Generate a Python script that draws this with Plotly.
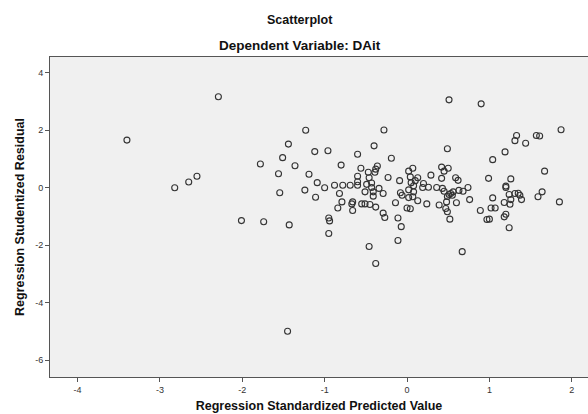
import plotly.graph_objects as go

# Regression standardized predicted value (x) and studentized residual (y)
pred = [
    -2.29, -3.40, -2.82, -2.65, -2.55, -1.78, -1.56, -1.545, -1.44, -1.51, -1.36, -1.23, -1.12, -1.19, -1.09,
    -1.24, -1.11, -2.01, -1.74, -1.43, -1.45,
    0.51, 0.90, -0.28, 1.87, 1.33, 1.31, 1.57, 1.61, 1.44, -0.96, -0.60, -0.40, 0.49, 1.19, 1.04, -0.19,
    -0.80, -0.56, -0.36, -0.38, -0.39, -0.47, 0.07, 0.02, 0.42, 0.50, 0.45, -1.00, -0.88, -0.78, -0.69,
    -0.60, -0.60, -0.60, -0.46, -0.43, -0.49, -0.43, -0.41, -0.34, -0.51, -0.29, -0.82, -0.23, -0.09,
    0.04, 0.10, 0.05, 0.13, 0.20, 0.26, 0.19, 0.08, 0.02, 0.08, 0.29, 0.42, 0.59, 0.62, 0.36, 0.43, 0.45,
    0.53, 0.55, 0.51, 0.56, 0.63, 0.68, 0.74, 0.99, 1.26, 1.20, 1.20, 1.67, 1.64, 1.59, 1.24, 1.31, 1.35,
    1.37, 1.39, 1.26, 1.85, 0.49, 0.48, 0.60, 0.76, 0.39, 0.89, 1.04, 1.02, 1.07, 1.18, 1.20, 0.24,
    0.13, 0.07, -0.08, -0.06, -0.14, 0.02, 0.00, 0.04, -0.29, -0.79, -0.84, -0.66, -0.67, -0.55, -0.51,
    -0.45, -0.38, -0.66,
    -0.27, -0.95, -0.94, -0.95, -0.11, -0.07, -0.11, -0.46, -0.38, 0.67, 0.52, 0.47, 0.49, 0.97, 1.00,
    1.18, 1.24, 1.25, -0.41,
]
resid = [
    3.17, 1.66, 0.00, 0.20, 0.40, 0.83, 0.49, -0.17, 1.52, 1.05, 0.77, 2.00, 1.26, 0.47, 0.18,
    -0.08, -0.33, -1.14, -1.18, -1.29, -4.99,
    3.06, 2.92, 2.01, 2.02, 1.82, 1.64, 1.82, 1.80, 1.55, 1.29, 1.17, 1.46, 1.36, 1.25, 0.98, 1.03,
    0.79, 0.68, 0.76, 0.65, 0.54, 0.54, 0.68, 0.58, 0.72, 0.68, 0.58, 0.00, 0.09, 0.09, 0.09,
    0.40, 0.21, 0.09, 0.35, 0.17, 0.12, 0.01, -0.14, -0.02, -0.14, -0.20, -0.20, 0.36, 0.25,
    0.38, 0.25, 0.18, 0.35, 0.15, 0.02, 0.01, 0.07, -0.07, -0.14, 0.44, 0.33, 0.35, 0.26, 0.01, -0.02, -0.12,
    -0.20, -0.26, -0.23, -0.14, -0.09, -0.12, 0.01, 0.33, 0.31, 0.06, 0.01, 0.58, -0.14, -0.31, -0.23, -0.20, -0.19,
    -0.26, -0.41, -0.41, -0.49, -0.30, -0.49, -0.52, -0.41, -0.60, -0.79, -0.35, -0.70, -0.70, -0.51, -0.92, -0.56,
    -0.45, -0.31, -0.17, -0.26, -0.52, -0.34, -0.70, -0.73, -0.88, -0.49, -0.70, -0.49, -0.56, -0.56, -0.56,
    -0.58, -0.67, -0.79,
    -1.03, -1.05, -1.15, -1.59, -1.05, -1.35, -1.83, -2.04, -2.63, -2.22, -1.09, -0.72, -0.83, -1.10, -1.09,
    -1.01, -1.39, -0.57, -0.29,
]

x_ticks = [-4, -3, -2, -1, 0, 1, 2]
y_ticks = [4, 2, 0, -2, -4, -6]

title_main = "Scatterplot"
title_sub = "Dependent Variable: DAit"
x_title = "Regression Standardized Predicted Value"
y_title = "Regression Studentized Residual"

FONT = "Liberation Sans, Arial, sans-serif"
W, H = 588, 414
ML, MR, MT, MB = 50, 0, 57, 37
plot_w = W - ML - MR
plot_h = H - MT - MB


def px_to_paper(px, py):
    return (px - ML) / plot_w, 1 + (MT - py) / plot_h


fig = go.Figure()
fig.add_trace(go.Scatter(
    x=pred, y=resid, mode="markers",
    marker=dict(symbol="circle-open", size=6, color="#333333", line=dict(width=1.1, color="#333333")),
    showlegend=False, hoverinfo="x+y",
))

ax1, ay1 = px_to_paper(300, 20)
ax2, ay2 = px_to_paper(300, 46)

fig.update_layout(
    width=W, height=H,
    margin=dict(l=ML, r=MR, t=MT, b=MB),
    paper_bgcolor="white",
    plot_bgcolor="#F0F0F0",
    font=dict(family=FONT, color="#222222"),
    annotations=[
        dict(text="<b>" + title_main + "</b>", x=ax1, y=ay1, xref="paper", yref="paper",
             xanchor="center", yanchor="middle",
             showarrow=False, font=dict(size=12.5, family=FONT, color="#111111")),
        dict(text="<b>" + title_sub + "</b>", x=ax2, y=ay2, xref="paper", yref="paper",
             xanchor="center", yanchor="middle",
             showarrow=False, font=dict(size=13.5, family=FONT, color="#111111")),
    ],
)

fig.update_xaxes(
    range=[-4.334, 2.197], tickvals=x_ticks, ticktext=[str(v) for v in x_ticks],
    showgrid=False, zeroline=False,
    showline=True, linecolor="#555555", linewidth=1, mirror=True,
    ticks="outside", ticklen=4, tickcolor="#555555",
    tickfont=dict(size=9, family=FONT, color="#333333"),
    title=dict(text="<b>" + x_title + "</b>", font=dict(size=12.5, family=FONT, color="#111111"), standoff=7),
)
fig.update_yaxes(
    range=[-6.58, 4.55], tickvals=y_ticks, ticktext=[str(v) for v in y_ticks],
    showgrid=False, zeroline=False,
    showline=True, linecolor="#555555", linewidth=1, mirror=False,
    ticks="outside", ticklen=4, tickcolor="#555555",
    tickfont=dict(size=9, family=FONT, color="#333333"),
    title=dict(text="<b>" + y_title + "</b>", font=dict(size=12.5, family=FONT, color="#111111"), standoff=7),
)

fig.write_html(
    "out.html",
    config={"responsive": False, "displayModeBar": False},
    post_script="document.body.style.margin='0';document.body.style.overflow='hidden';",
)
